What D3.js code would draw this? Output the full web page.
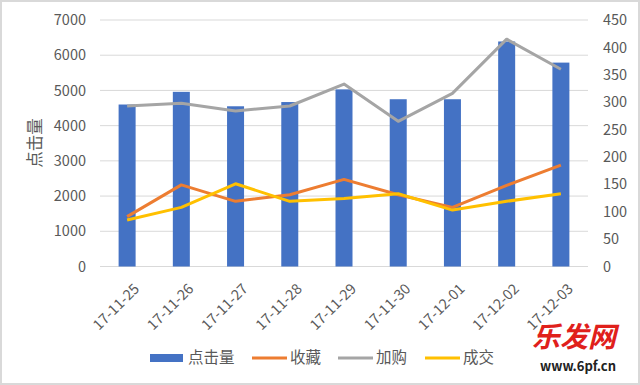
<!DOCTYPE html>
<html>
<head>
<meta charset="utf-8">
<script src="https://cdn.jsdelivr.net/npm/d3@7"></script>
<style>
  body { margin: 0; background: #fff; }
  text { font-family: "Noto Sans CJK SC", "Open Sans", sans-serif; }
</style>
</head>
<body>
<div class="container"></div>
<script>
const dates = ["17-11-25", "17-11-26", "17-11-27", "17-11-28", "17-11-29", "17-11-30", "17-12-01", "17-12-02", "17-12-03"];
const clicks = [4600, 4960, 4550, 4670, 5030, 4750, 4750, 6390, 5790];
const favs = [91, 149, 119, 131, 159, 131, 108, 148, 185];
const carts = [293, 298, 284, 293, 333, 265, 316, 415, 360];
const buys = [85, 108, 151, 119, 124, 133, 103, 119, 133];
const leftTicks = [0, 1000, 2000, 3000, 4000, 5000, 6000, 7000];
const rightTicks = [0, 50, 100, 150, 200, 250, 300, 350, 400, 450];
const seriesNames = ["点击量", "收藏", "加购", "成交"];

const width = 640, height = 385;
const plotLeft = 100, plotRight = 588, plotTop = 20, plotBottom = 266.5;
const grey = "#595959";

const svg = d3.select(".container").append("svg")
  .attr("width", width).attr("height", height);

svg.append("rect")
  .attr("x", 1).attr("y", 1).attr("width", width - 2).attr("height", height - 2)
  .attr("fill", "#fff").attr("stroke", "#d9d9d9").attr("stroke-width", 2);

const x = d3.scaleBand().domain(dates).range([plotLeft, plotRight]);
const yL = d3.scaleLinear().domain([0, 7000]).range([plotBottom, plotTop]);
const yR = d3.scaleLinear().domain([0, 450]).range([plotBottom, plotTop]);

// gridlines
svg.append("g").selectAll("line")
  .data(leftTicks)
  .join("line")
  .attr("x1", plotLeft).attr("x2", plotRight)
  .attr("y1", d => yL(d)).attr("y2", d => yL(d))
  .attr("stroke", "#d9d9d9").attr("stroke-width", 1);

// left axis
const axL = svg.append("g")
  .attr("transform", `translate(86,0)`)
  .call(d3.axisLeft(yL).tickValues(leftTicks).tickFormat(d3.format("d")).tickSize(0).tickPadding(0));
axL.select(".domain").remove();
axL.selectAll("text").attr("fill", grey).attr("font-size", 14.5);

// right axis
const axR = svg.append("g")
  .attr("transform", `translate(603,0)`)
  .call(d3.axisRight(yR).tickValues(rightTicks).tickSize(0).tickPadding(0));
axR.select(".domain").remove();
axR.selectAll("text").attr("fill", grey).attr("font-size", 14.5);

svg.append("text")
  .attr("transform", `translate(35,143) rotate(-90)`)
  .attr("text-anchor", "middle").attr("dy", "0.35em")
  .attr("fill", grey).attr("font-size", 16.5)
  .text(seriesNames[0]);

// bars
const barW = 17;
svg.append("g").selectAll("rect")
  .data(clicks)
  .join("rect")
  .attr("x", (d, i) => x(dates[i]) + x.bandwidth() / 2 - barW / 2)
  .attr("y", d => yL(d))
  .attr("width", barW)
  .attr("height", d => plotBottom - yL(d))
  .attr("fill", "#4472C4");

// lines
const lineSeries = [
  { values: carts, color: "#A5A5A5" },
  { values: favs, color: "#ED7D31" },
  { values: buys, color: "#FFC000" },
];
const line = d3.line()
  .x((d, i) => x(dates[i]) + x.bandwidth() / 2)
  .y(d => yR(d));
svg.append("g").selectAll("path")
  .data(lineSeries)
  .join("path")
  .attr("d", d => line(d.values))
  .attr("fill", "none")
  .attr("stroke", d => d.color)
  .attr("stroke-width", 3)
  .attr("stroke-linejoin", "round");

// x labels
svg.append("g").selectAll("text")
  .data(dates)
  .join("text")
  .attr("transform", d => `translate(${x(d) + x.bandwidth() / 2 + 6},${plotBottom + 16}) rotate(-45)`)
  .attr("text-anchor", "end")
  .attr("dy", "0.7em")
  .attr("fill", grey).attr("font-size", 14.5)
  .text(d => d);

// legend
const legend = [
  { name: seriesNames[0], color: "#4472C4", bar: true, x: 150 },
  { name: seriesNames[1], color: "#ED7D31", x: 252 },
  { name: seriesNames[2], color: "#A5A5A5", x: 338 },
  { name: seriesNames[3], color: "#FFC000", x: 425 },
];
const lg = svg.append("g").selectAll("g")
  .data(legend)
  .join("g")
  .attr("transform", d => `translate(${d.x},358)`);
lg.append("rect")
  .attr("x", 0).attr("y", d => d.bar ? -4 : -1.5)
  .attr("width", d => d.bar ? 33 : 35).attr("height", d => d.bar ? 8 : 3)
  .attr("fill", d => d.color);
lg.append("text")
  .attr("x", 38).attr("dy", "0.35em")
  .attr("fill", grey).attr("font-size", 15.5)
  .text(d => d.name);

// watermark
svg.append("text")
  .attr("x", 532).attr("y", 347)
  .attr("fill", "#e0201b").attr("font-size", 28).attr("font-weight", "bold")
  .attr("font-style", "italic")
  .text("乐发网");
svg.append("text")
  .attr("x", 540).attr("y", 371)
  .attr("fill", "#222").attr("font-size", 13).attr("font-weight", "bold")
  .attr("font-family", "Liberation Sans, sans-serif")
  .text("www.6pf.cn");
</script>
</body>
</html>
